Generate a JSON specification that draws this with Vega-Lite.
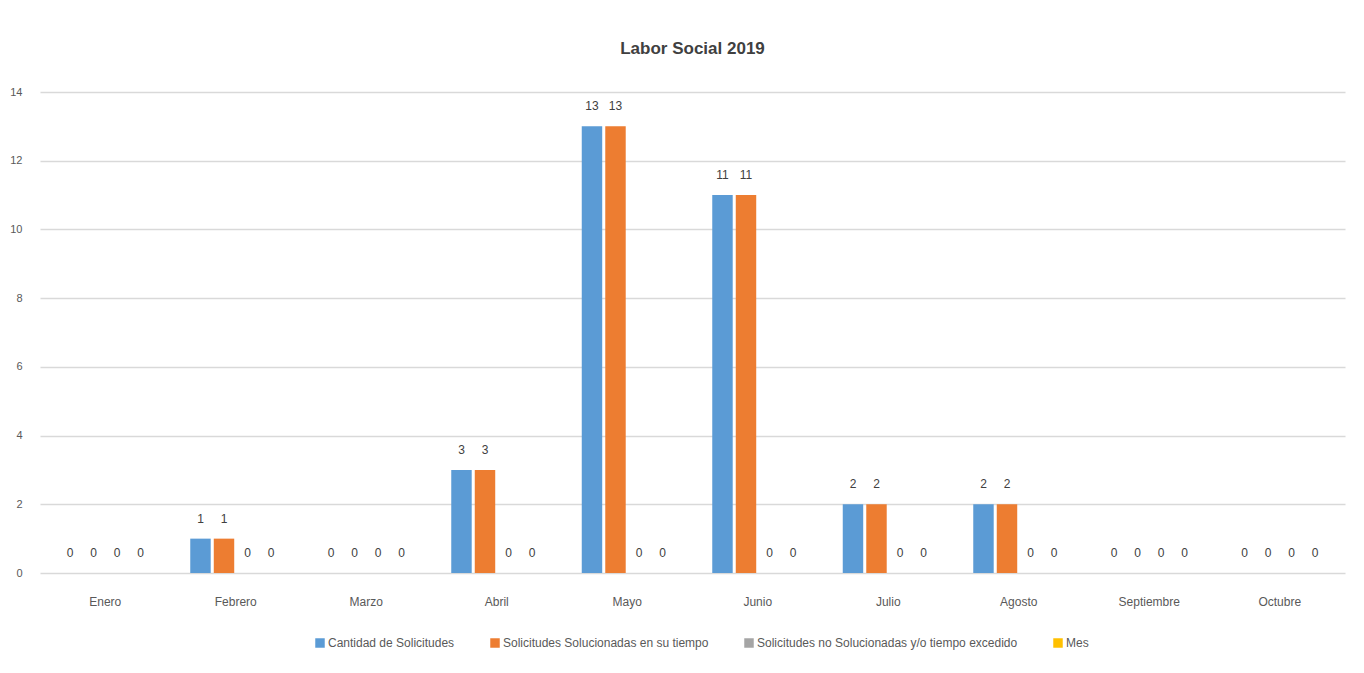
{
  "$schema": "https://vega.github.io/schema/vega-lite/v6.json",
  "width": 1305,
  "height": 481,
  "autosize": {"type": "none"},
  "padding": {"left": 40, "top": 92, "right": 19, "bottom": 100},
  "background": "white",
  "title": {"text": "Labor Social 2019", "fontSize": 17, "font": "Liberation Sans Narrow, Liberation Sans", "fontWeight": "bold", "color": "#404040", "offset": 28},
  "data": {"values": [
    {"mes": "Enero", "serie": "Cantidad de Solicitudes", "valor": 0},
    {"mes": "Enero", "serie": "Solicitudes Solucionadas en su tiempo", "valor": 0},
    {"mes": "Enero", "serie": "Solicitudes no Solucionadas y/o tiempo excedido", "valor": 0},
    {"mes": "Enero", "serie": "Mes", "valor": 0},
    {"mes": "Febrero", "serie": "Cantidad de Solicitudes", "valor": 1},
    {"mes": "Febrero", "serie": "Solicitudes Solucionadas en su tiempo", "valor": 1},
    {"mes": "Febrero", "serie": "Solicitudes no Solucionadas y/o tiempo excedido", "valor": 0},
    {"mes": "Febrero", "serie": "Mes", "valor": 0},
    {"mes": "Marzo", "serie": "Cantidad de Solicitudes", "valor": 0},
    {"mes": "Marzo", "serie": "Solicitudes Solucionadas en su tiempo", "valor": 0},
    {"mes": "Marzo", "serie": "Solicitudes no Solucionadas y/o tiempo excedido", "valor": 0},
    {"mes": "Marzo", "serie": "Mes", "valor": 0},
    {"mes": "Abril", "serie": "Cantidad de Solicitudes", "valor": 3},
    {"mes": "Abril", "serie": "Solicitudes Solucionadas en su tiempo", "valor": 3},
    {"mes": "Abril", "serie": "Solicitudes no Solucionadas y/o tiempo excedido", "valor": 0},
    {"mes": "Abril", "serie": "Mes", "valor": 0},
    {"mes": "Mayo", "serie": "Cantidad de Solicitudes", "valor": 13},
    {"mes": "Mayo", "serie": "Solicitudes Solucionadas en su tiempo", "valor": 13},
    {"mes": "Mayo", "serie": "Solicitudes no Solucionadas y/o tiempo excedido", "valor": 0},
    {"mes": "Mayo", "serie": "Mes", "valor": 0},
    {"mes": "Junio", "serie": "Cantidad de Solicitudes", "valor": 11},
    {"mes": "Junio", "serie": "Solicitudes Solucionadas en su tiempo", "valor": 11},
    {"mes": "Junio", "serie": "Solicitudes no Solucionadas y/o tiempo excedido", "valor": 0},
    {"mes": "Junio", "serie": "Mes", "valor": 0},
    {"mes": "Julio", "serie": "Cantidad de Solicitudes", "valor": 2},
    {"mes": "Julio", "serie": "Solicitudes Solucionadas en su tiempo", "valor": 2},
    {"mes": "Julio", "serie": "Solicitudes no Solucionadas y/o tiempo excedido", "valor": 0},
    {"mes": "Julio", "serie": "Mes", "valor": 0},
    {"mes": "Agosto", "serie": "Cantidad de Solicitudes", "valor": 2},
    {"mes": "Agosto", "serie": "Solicitudes Solucionadas en su tiempo", "valor": 2},
    {"mes": "Agosto", "serie": "Solicitudes no Solucionadas y/o tiempo excedido", "valor": 0},
    {"mes": "Agosto", "serie": "Mes", "valor": 0},
    {"mes": "Septiembre", "serie": "Cantidad de Solicitudes", "valor": 0},
    {"mes": "Septiembre", "serie": "Solicitudes Solucionadas en su tiempo", "valor": 0},
    {"mes": "Septiembre", "serie": "Solicitudes no Solucionadas y/o tiempo excedido", "valor": 0},
    {"mes": "Septiembre", "serie": "Mes", "valor": 0},
    {"mes": "Octubre", "serie": "Cantidad de Solicitudes", "valor": 0},
    {"mes": "Octubre", "serie": "Solicitudes Solucionadas en su tiempo", "valor": 0},
    {"mes": "Octubre", "serie": "Solicitudes no Solucionadas y/o tiempo excedido", "valor": 0},
    {"mes": "Octubre", "serie": "Mes", "valor": 0}
  ]},
  "encoding": {
    "x": {
      "field": "mes", "type": "nominal",
      "sort": ["Enero", "Febrero", "Marzo", "Abril", "Mayo", "Junio", "Julio", "Agosto", "Septiembre", "Octubre"],
      "scale": {"paddingInner": 0, "paddingOuter": 0},
      "axis": {"title": null, "labelAngle": 0, "domain": false, "ticks": false, "labelPadding": 23, "labelFontSize": 12, "labelColor": "#595959", "labelFont": "Liberation Sans Narrow, Liberation Sans"}
    },
    "xOffset": {
      "field": "serie", "type": "nominal",
      "sort": ["Cantidad de Solicitudes", "Solicitudes Solucionadas en su tiempo", "Solicitudes no Solucionadas y/o tiempo excedido", "Mes"],
      "scale": {"paddingInner": 0.13, "paddingOuter": 0.84}
    },
    "y": {
      "field": "valor", "type": "quantitative",
      "scale": {"domain": [0, 14]},
      "axis": {"title": null, "values": [0, 2, 4, 6, 8, 10, 12, 14], "domain": false, "ticks": false, "labelPadding": 18, "labelFontSize": 11, "labelColor": "#595959", "labelFont": "Liberation Sans Narrow, Liberation Sans", "gridColor": "#D9D9D9", "gridWidth": 1.5}
    }
  },
  "layer": [
    {
      "mark": {"type": "bar"},
      "encoding": {
        "color": {
          "field": "serie", "type": "nominal",
          "sort": ["Cantidad de Solicitudes", "Solicitudes Solucionadas en su tiempo", "Solicitudes no Solucionadas y/o tiempo excedido", "Mes"],
          "scale": {"range": ["#5B9BD5", "#ED7D31", "#A5A5A5", "#FFC000"]},
          "legend": {
            "title": null, "orient": "none", "direction": "horizontal",
            "legendX": 274, "legendY": 545,
            "symbolType": "square", "symbolSize": 90, "symbolStrokeWidth": 0,
            "labelFontSize": 12, "labelColor": "#595959", "labelFont": "Liberation Sans Narrow, Liberation Sans",
            "columnPadding": 34, "labelOffset": 2, "labelLimit": 400
          }
        }
      }
    },
    {
      "mark": {"type": "text", "baseline": "alphabetic", "dy": -16, "fontSize": 12, "color": "#404040", "font": "Liberation Sans Narrow, Liberation Sans"},
      "encoding": {"text": {"field": "valor", "type": "quantitative"}}
    }
  ],
  "config": {"view": {"stroke": null}}
}
